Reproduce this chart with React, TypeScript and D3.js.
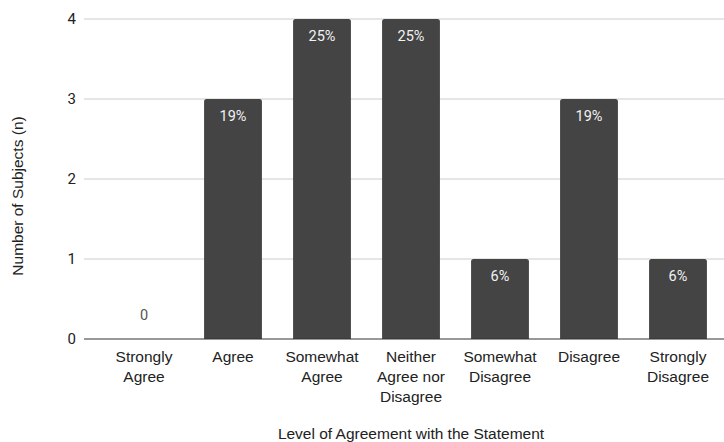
import React from "react";
import * as d3 from "d3";

const categories: string[][] = [
  ["Strongly", "Agree"],
  ["Agree"],
  ["Somewhat", "Agree"],
  ["Neither", "Agree nor", "Disagree"],
  ["Somewhat", "Disagree"],
  ["Disagree"],
  ["Strongly", "Disagree"],
];
const counts = [0, 3, 4, 4, 1, 3, 1];
const percentLabels = ["0", "19%", "25%", "25%", "6%", "19%", "6%"];
const yTicks = [0, 1, 2, 3, 4];

const W = 724;
const H = 442;
const plotLeft = 84;
const plotRight = 724;
const plotTop = 19;
const plotBottom = 339;
const sans = "'Liberation Sans', Arial, sans-serif";
const rob = "Roboto, 'Liberation Sans', Arial, sans-serif";

export default function App() {
  const keys = categories.map((c) => c.join(" "));
  const x = d3
    .scaleBand<string>()
    .domain(keys)
    .range([99.5, 722.5])
    .paddingInner(0.35)
    .paddingOuter(0.175);
  const y = d3.scaleLinear().domain([0, 4]).range([plotBottom, plotTop]);
  const r = 2.5;

  const barPath = (x0: number, w: number, yTop: number, yBot: number) => {
    const h = yBot - yTop;
    if (h <= 0) return "";
    const rr = Math.min(r, h);
    const p = d3.path();
    p.moveTo(x0, yBot);
    p.lineTo(x0, yTop + rr);
    p.quadraticCurveTo(x0, yTop, x0 + rr, yTop);
    p.lineTo(x0 + w - rr, yTop);
    p.quadraticCurveTo(x0 + w, yTop, x0 + w, yTop + rr);
    p.lineTo(x0 + w, yBot);
    p.closePath();
    return p.toString();
  };

  return (
    <svg
      width={W}
      height={H}
      style={{ position: "absolute", left: 0, top: 0, background: "#fff" }}
    >
      {yTicks.map((t) => (
        <g key={t}>
          {t !== 0 && (
            <line
              x1={plotLeft}
              x2={plotRight}
              y1={y(t)}
              y2={y(t)}
              stroke="#cccccc"
              strokeWidth={1}
            />
          )}
          <text
            x={76}
            y={y(t)}
            dy="0.35em"
            textAnchor="end"
            fontFamily={rob}
            fontSize={15}
            fill="#222"
          >
            {t}
          </text>
        </g>
      ))}
      {counts.map((v, i) => {
        const k = keys[i];
        const bx = x(k)!;
        const bw = x.bandwidth();
        const cx = bx + bw / 2;
        return (
          <g key={k}>
            <path d={barPath(bx, bw, y(v), y(0))} fill="#444444" />
            {v > 0 ? (
              <text
                x={cx}
                y={y(v) + 17}
                dy="0.35em"
                textAnchor="middle"
                fontFamily={rob}
                fontSize={14.5}
                fill="#f2f2f2"
              >
                {percentLabels[i]}
              </text>
            ) : (
              <text
                x={cx}
                y={y(0) - 24}
                dy="0.35em"
                textAnchor="middle"
                fontFamily={rob}
                fontSize={14.5}
                fill="#555555"
              >
                {percentLabels[i]}
              </text>
            )}
            {categories[i].map((line, j) => (
              <text
                key={j}
                x={cx}
                y={357 + j * 20}
                dy="0.35em"
                textAnchor="middle"
                fontFamily={sans}
                fontSize={15.5}
                fill="#222"
              >
                {line}
              </text>
            ))}
          </g>
        );
      })}
      <line
        x1={plotLeft}
        x2={plotRight}
        y1={y(0)}
        y2={y(0)}
        stroke="#333333"
        strokeWidth={1}
      />
      <text
        x={411}
        y={434}
        dy="0.35em"
        textAnchor="middle"
        fontFamily={sans}
        fontSize={15.5}
        fill="#222"
      >
        Level of Agreement with the Statement
      </text>
      <text
        transform={`translate(18, 196) rotate(-90)`}
        dy="0.35em"
        textAnchor="middle"
        fontFamily={sans}
        fontSize={15.5}
        fill="#222"
      >
        Number of Subjects (n)
      </text>
    </svg>
  );
}
